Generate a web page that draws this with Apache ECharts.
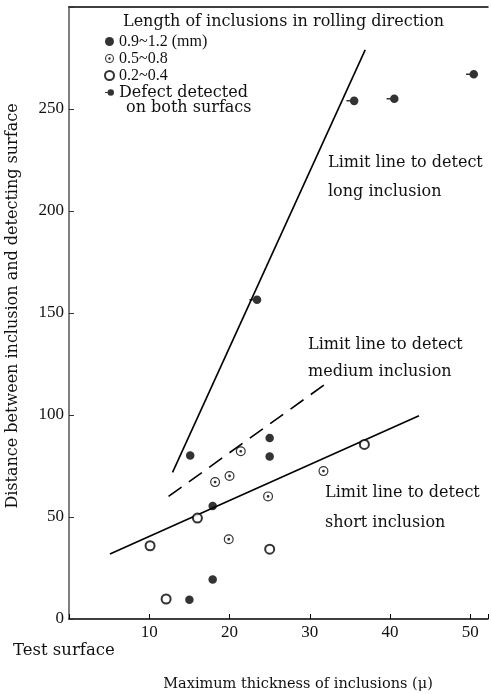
<!DOCTYPE html>
<html>
<head>
<meta charset="utf-8">
<title>Inclusion detection limits</title>
<script src="https://cdn.jsdelivr.net/npm/echarts@6/dist/echarts.min.js"></script>
<style>
  html, body { margin: 0; padding: 0; background: #fff; }
  #chart { width: 491px; height: 694px; }
</style>
</head>
<body>
<div id="chart"></div>
<script>
// values: x = max thickness of inclusion, y = distance to surface
var longX = [15.1, 25.0, 25.0, 17.9, 17.9, 15.0];
var longY = [80.2, 88.7, 79.7, 55.4, 19.4, 9.4];
var mediumX = [21.4, 18.2, 20.0, 24.8, 31.7, 19.9];
var mediumY = [82.2, 67.1, 70.1, 60.1, 72.5, 39.1];
var shortX = [10.1, 16.0, 25.0, 12.1, 36.8];
var shortY = [35.9, 49.5, 34.2, 9.8, 85.6];
var bothX = [23.0, 35.1, 40.1, 50.0];
var bothY = [156.5, 254, 255, 267];

// limit lines (end points)
var longLineX = [12.9, 36.9];
var longLineY = [71.9, 279];
var mediumLineX = [12.4, 32.1];
var mediumLineY = [60.1, 115.6];
var shortLineX = [5.1, 43.6];
var shortLineY = [31.9, 99.6];

var xTicks = [10, 20, 30, 40, 50];
var yTicks = [0, 50, 100, 150, 200, 250];

var legendNames = ['0.9~1.2 (mm)', '0.5~0.8', '0.2~0.4', 'Defect detected'];

var WORD = '"DejaVu Serif"';
var NUM = '"Liberation Serif"';

function pairs(xs, ys) {
    return xs.map(function (x, i) { return [x, ys[i]]; });
}

var dotCircle = 'path://M10,0A10,10,0,1,1,-10,0A10,10,0,1,1,10,0Z' +
    'M7.6,0A7.6,7.6,0,1,0,-7.6,0A7.6,7.6,0,1,0,7.6,0Z' +
    'M2.8,0A2.8,2.8,0,1,1,-2.8,0A2.8,2.8,0,1,1,2.8,0Z';
var dashDot = 'path://M-9,-0.9L-4,-0.9L-4,0.9L-9,0.9Z' +
    'M5,0A5,5,0,1,1,-5,0A5,5,0,1,1,5,0Z';

function limitLine(xs, ys, dash) {
    return {
        type: 'line',
        data: pairs(xs, ys),
        symbol: 'none',
        silent: true,
        lineStyle: { color: '#000', width: 1.6, type: dash || 'solid' },
        z: 1
    };
}

function label(text, x, y, size) {
    return {
        type: 'text',
        x: x,
        y: y,
        style: {
            text: text,
            fill: '#111',
            font: (size || 16) + 'px ' + WORD,
            verticalAlign: 'middle'
        }
    };
}

var chart = echarts.init(document.getElementById('chart'), null, { renderer: 'canvas' });

var option = {
    backgroundColor: '#fff',
    animation: false,
    grid: { left: 69, right: 0, top: 7, bottom: 75 },
    title: {
        text: 'Length of inclusions in rolling direction',
        left: 118,
        top: 9,
        textStyle: { fontFamily: WORD, fontSize: 16, fontWeight: 'normal', color: '#111' }
    },
    legend: {
        orient: 'vertical',
        left: 104,
        top: 33,
        padding: 0,
        itemWidth: 9,
        itemHeight: 9,
        itemGap: 0,
        data: legendNames,
        formatter: function (name) {
            if (name === legendNames[3]) return '{w|' + name + '}';
            return '{n|' + name + '}';
        },
        textStyle: {
            color: '#111',
            lineHeight: 17,
            rich: {
                n: { fontFamily: NUM, fontSize: 16, lineHeight: 17, color: '#111' },
                w: { fontFamily: WORD, fontSize: 16, lineHeight: 17, color: '#111' }
            }
        }
    },
    xAxis: [{
        type: 'value',
        min: 0,
        max: 52.2,
        interval: 10,
        axisLine: { show: true, onZero: false, lineStyle: { color: '#000', width: 1.5 } },
        axisTick: { show: true, inside: true, length: 5, lineStyle: { color: '#000' } },
        axisLabel: {
            margin: 5,
            fontFamily: NUM,
            fontSize: 17,
            color: '#111',
            formatter: function (v) { return xTicks.indexOf(v) >= 0 ? String(v) : ''; }
        },
        splitLine: { show: false }
    }, {
        type: 'value',
        position: 'top',
        min: 0,
        max: 52.2,
        axisLine: { show: true, onZero: false, lineStyle: { color: '#000', width: 1.5 } },
        axisTick: { show: false },
        axisLabel: { show: false },
        splitLine: { show: false }
    }],
    yAxis: {
        type: 'value',
        min: 0,
        max: 300,
        interval: 50,
        axisLine: { show: true, onZero: false, lineStyle: { color: '#555', width: 1.5 } },
        axisTick: { show: true, inside: true, length: 5, lineStyle: { color: '#333' } },
        axisLabel: {
            margin: 5,
            fontFamily: NUM,
            fontSize: 17,
            color: '#111',
            formatter: function (v) { return yTicks.indexOf(v) >= 0 ? String(v) : ''; }
        },
        splitLine: { show: false }
    },
    series: [
        limitLine(longLineX, longLineY),
        limitLine(mediumLineX, mediumLineY, [16, 9]),
        limitLine(shortLineX, shortLineY),
        {
            name: legendNames[0],
            type: 'scatter',
            data: pairs(longX, longY),
            symbol: 'circle',
            symbolSize: 8.5,
            itemStyle: { color: '#000' },
            z: 3
        },
        {
            name: legendNames[1],
            type: 'scatter',
            data: pairs(mediumX, mediumY),
            symbol: dotCircle,
            symbolSize: 10,
            itemStyle: { color: '#000' },
            z: 3
        },
        {
            name: legendNames[2],
            type: 'scatter',
            data: pairs(shortX, shortY),
            symbol: 'emptyCircle',
            symbolSize: 9,
            itemStyle: { color: '#000', borderColor: '#000', borderWidth: 0.9 },
            z: 3
        },
        {
            name: legendNames[3],
            type: 'scatter',
            data: pairs(bothX, bothY),
            symbol: dashDot,
            symbolSize: [12, 8.6],
            symbolOffset: [1.7, 0],
            itemStyle: { color: '#000' },
            z: 3
        }
    ],
    graphic: [
        label('on both surfacs', 126, 108),
        label('Limit line to detect', 328, 163),
        label('long inclusion', 328, 192),
        label('Limit line to detect', 308, 345),
        label('medium inclusion', 308, 372),
        label('Limit line to detect', 325, 493),
        label('short inclusion', 325, 523),
        label('Test surface', 13, 651, 16.5),
        {
            type: 'text',
            x: 298,
            y: 684,
            style: {
                text: 'Maximum thickness of inclusions (\u03bc)',
                fill: '#111',
                font: '14.5px ' + WORD,
                align: 'center',
                verticalAlign: 'middle'
            }
        },
        {
            type: 'text',
            x: 13,
            y: 306,
            rotation: Math.PI / 2,
            style: {
                text: 'Distance between inclusion and detecting surface',
                fill: '#111',
                font: '16px ' + WORD,
                align: 'center',
                verticalAlign: 'middle'
            }
        }
    ]
};

chart.setOption(option);
</script>
</body>
</html>
